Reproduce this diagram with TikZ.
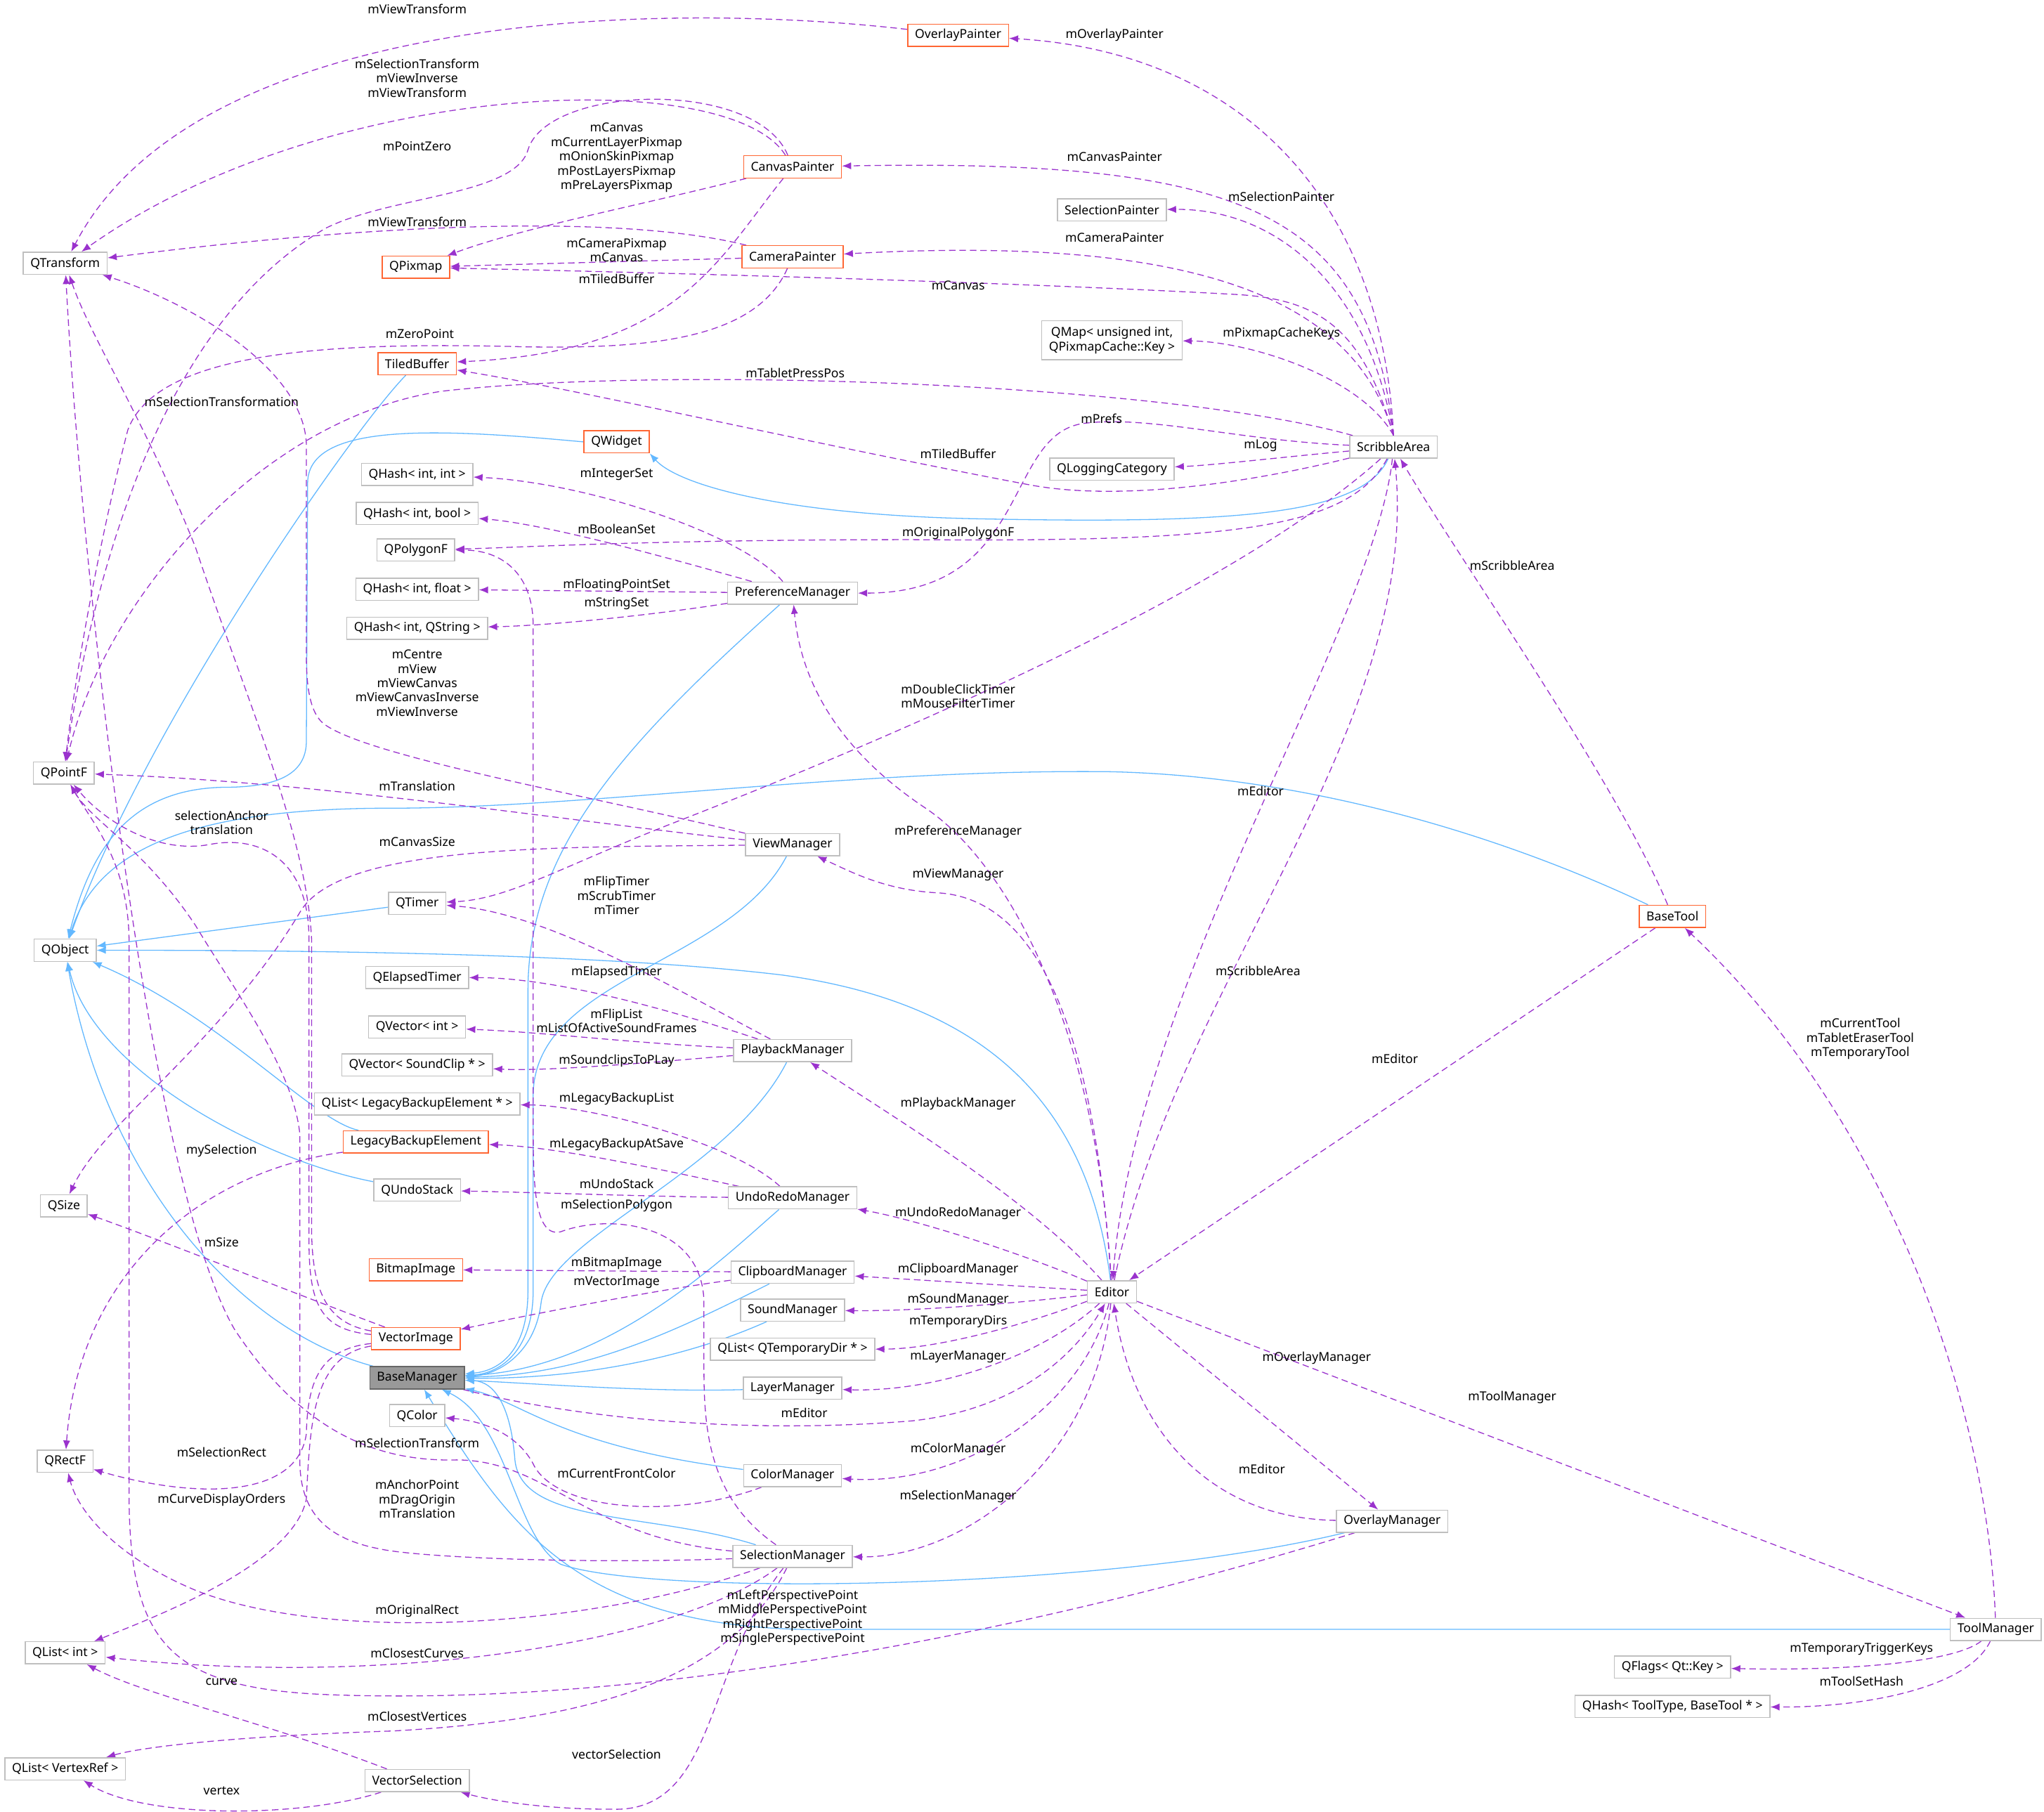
\documentclass[tikz,border=0pt]{standalone}
\usepackage{fontspec}
\setmainfont{Noto Sans}
\usetikzlibrary{arrows.meta,backgrounds}
\definecolor{inhblue}{HTML}{63B8FF}
\definecolor{usepurple}{HTML}{9A32CD}
\definecolor{boxgray}{HTML}{BFBFBF}
\definecolor{extorange}{HTML}{FF6633}
\definecolor{basegray}{HTML}{999999}
\newcommand{\dgfont}{\fontsize{9.5}{11}\selectfont}

\begin{document}
\begin{tikzpicture}[x=1pt,y=-1pt,>=Latex,
  cls/.style={draw=boxgray,fill=white,line width=0.8pt,font=\dgfont,inner xsep=5.5pt,inner ysep=1pt,minimum height=17pt},
  extcls/.style={cls,draw=extorange},
  maincls/.style={cls,draw=black!60,fill=basegray},
  inh/.style={inhblue,line width=0.7pt,-{Latex[length=7pt,width=5.5pt]}},
  use/.style={usepurple,line width=0.7pt,dash pattern=on 5pt off 3pt,-{Latex[length=7pt,width=5.5pt]}},
  lbl/.style={font=\dgfont,text=black,align=center,inner sep=0pt}]
  \useasboundingbox (0,0) rectangle (1568,1390);

  \node[cls] (qtransform) at (50,202) {QTransform};
  \node[cls] (qpointf) at (49,593) {QPointF};
  \node[cls] (qobject) at (50,729) {QObject};
  \node[cls] (qsize) at (49,925) {QSize};
  \node[cls] (qrectf) at (50,1121) {QRectF};
  \node[cls] (qlistint) at (50,1268) {QList< int >};
  \node[cls] (qlistvertex) at (50,1357) {QList< VertexRef >};

  \node[extcls] (qpixmap) at (319,205) {QPixmap};
  \node[extcls] (tiledbuffer) at (320,279) {TiledBuffer};
  \node[extcls] (qwidget) at (473,339) {QWidget};
  \node[cls] (qhashint) at (320,364) {QHash< int, int >};
  \node[cls] (qhashbool) at (320,394) {QHash< int, bool >};
  \node[cls] (qpolygonf) at (319,422) {QPolygonF};
  \node[cls] (qhashfloat) at (320,452) {QHash< int, float >};
  \node[cls] (qhashstring) at (320,482) {QHash< int, QString >};
  \node[cls] (qtimer) at (320,693) {QTimer};
  \node[cls] (qelapsed) at (320,750) {QElapsedTimer};
  \node[cls] (qvectorint) at (320,788) {QVector< int >};
  \node[cls] (qvectorsound) at (320,817) {QVector< SoundClip * >};
  \node[cls] (qlistlegacy) at (320,847) {QList< LegacyBackupElement * >};
  \node[extcls] (legacy) at (319,876) {LegacyBackupElement};
  \node[cls] (qundostack) at (320,913) {QUndoStack};
  \node[extcls] (bitmapimage) at (319,974) {BitmapImage};
  \node[extcls] (vectorimage) at (319,1027) {VectorImage};
  \node[maincls] (basemanager) at (320,1057) {BaseManager};
  \node[cls] (qcolor) at (320,1086) {QColor};
  \node[cls] (vectorselection) at (320,1366) {VectorSelection};

  \node[extcls] (overlaypainter) at (735,27) {OverlayPainter};
  \node[extcls] (canvaspainter) at (608,128) {CanvasPainter};
  \node[extcls] (camerapainter) at (608,197) {CameraPainter};
  \node[cls] (prefmanager) at (608,455) {PreferenceManager};
  \node[cls] (viewmanager) at (608,648) {ViewManager};
  \node[cls] (playbackmanager) at (608,806) {PlaybackManager};
  \node[cls] (undoredomanager) at (608,919) {UndoRedoManager};
  \node[cls] (clipboardmanager) at (608,976) {ClipboardManager};
  \node[cls] (soundmanager) at (608,1005) {SoundManager};
  \node[cls] (qlisttempdir) at (608,1035) {QList< QTemporaryDir * >};
  \node[cls] (layermanager) at (608,1065) {LayerManager};
  \node[cls] (colormanager) at (608,1132) {ColorManager};
  \node[cls] (selectionmanager) at (608,1194) {SelectionManager};

  \node[cls] (selectionpainter) at (853,161) {SelectionPainter};
  \node[cls,align=center,minimum height=30pt] (qmap) at (853,261) {QMap< unsigned int,\\ QPixmapCache::Key >};
  \node[cls] (qlogging) at (853,360) {QLoggingCategory};
  \node[cls] (scribblearea) at (1069,343) {ScribbleArea};
  \node[cls] (editor) at (853,991) {Editor};
  \node[cls] (overlaymanager) at (1068,1167) {OverlayManager};
  \node[extcls] (basetool) at (1283,703) {BaseTool};
  \node[cls] (toolmanager) at (1531,1250) {ToolManager};
  \node[cls] (qflags) at (1283,1279) {QFlags< Qt::Key >};
  \node[cls] (qhashtool) at (1283,1309) {QHash< ToolType, BaseTool * >};

  \begin{scope}[on background layer]
  \draw[inh] (tiledbuffer) .. controls (270,330) and (110,560) .. (qobject);
  \draw[inh] (qwidget.west) .. controls (330,328) and (237,325) .. (236,370) -- (235,570) .. controls (234,600) and (200,604) .. (170,604) .. controls (100,606) and (70,650) .. (qobject);
  \draw[inh] (scribblearea) .. controls (1045,395) and (950,402) .. (750,398) .. controls (600,395) and (520,372) .. (qwidget.south east);
  \draw[inh] (basetool) .. controls (1150,640) and (1000,595) .. (850,592) .. controls (650,590) and (450,620) .. (300,620) .. controls (150,620) and (75,650) .. (qobject);
  \draw[inh] (editor) .. controls (835,850) and (760,770) .. (600,748) .. controls (450,730) and (200,729) .. (qobject);
  \draw[inh] (qtimer) -- (qobject);
  \draw[inh] (basemanager) .. controls (180,1020) and (80,900) .. (qobject);
  \draw[inh] (qundostack) .. controls (200,890) and (70,820) .. (qobject);
  \draw[inh] (legacy) .. controls (240,860) and (170,780) .. (qobject);
  \draw[inh] (prefmanager) .. controls (480,570) and (405,650) .. (405,760) -- (405,990) .. controls (405,1040) and (380,1052) .. (basemanager);
  \draw[inh] (viewmanager) .. controls (560,740) and (410,750) .. (409,840) -- (409,990) .. controls (409,1040) and (380,1054) .. (basemanager);
  \draw[inh] (playbackmanager) .. controls (560,900) and (420,950) .. (415,1000) .. controls (410,1040) and (380,1055) .. (basemanager);
  \draw[inh] (undoredomanager) .. controls (560,960) and (470,1050) .. (basemanager);
  \draw[inh] (clipboardmanager) .. controls (520,1020) and (450,1055) .. (basemanager);
  \draw[inh] (soundmanager) .. controls (530,1040) and (450,1058) .. (basemanager);
  \draw[inh] (layermanager) .. controls (500,1068) and (420,1062) .. (basemanager);
  \draw[inh] (colormanager) .. controls (430,1110) and (400,1075) .. (basemanager);
  \draw[inh] (selectionmanager) .. controls (500,1160) and (400,1170) .. (395,1120) .. controls (392,1080) and (380,1060) .. (basemanager);
  \draw[inh] (overlaymanager) .. controls (850,1220) and (500,1225) .. (430,1200) .. controls (395,1180) and (390,1090) .. (basemanager);
  \draw[inh] (toolmanager) -- (650,1250) .. controls (450,1255) and (395,1180) .. (basemanager);

  \draw[use] (scribblearea.north) .. controls (1060,150) and (950,40) .. (overlaypainter) node[lbl] (lOvPainter) at (855,27) {mOverlayPainter};
  \draw[use] (scribblearea.north) .. controls (1050,160) and (950,122) .. (canvaspainter) node[lbl] (lCvPainter) at (855,120) {mCanvasPainter};
  \draw[use] (scribblearea.north) .. controls (1050,220) and (980,160) .. (selectionpainter) node[lbl] (lSelPainter) at (983,151) {mSelectionPainter};
  \draw[use] (scribblearea.north) .. controls (1040,230) and (920,180) .. (camerapainter) node[lbl] (lCamPainter) at (855,182) {mCameraPainter};
  \draw[use] (scribblearea.north) .. controls (1045,250) and (1010,230) .. (950,226) .. controls (750,215) and (450,208) .. (qpixmap) node[lbl] (lSaCanvas) at (735,219) {mCanvas};
  \draw[use] (scribblearea.north) .. controls (1045,290) and (960,262) .. (qmap) node[lbl] (lCacheKeys) at (983,256) {mPixmapCacheKeys};
  \draw[use] (scribblearea) .. controls (900,295) and (520,280) .. (340,300) .. controls (200,320) and (80,460) .. (qpointf) node[lbl] (lPressPos) at (610,286) {mTabletPressPos};
  \draw[use] (scribblearea) .. controls (950,338) and (880,318) .. (830,325) .. controls (770,335) and (790,455) .. (prefmanager) node[lbl] (lPrefs) at (845,321) {mPrefs};
  \draw[use] (scribblearea) .. controls (960,370) and (860,385) .. (790,372) .. controls (620,340) and (450,300) .. (tiledbuffer) node[lbl] (lSaTiled) at (735,348) {mTiledBuffer};
  \draw[use] (scribblearea) .. controls (990,350) and (930,357) .. (qlogging) node[lbl] (lLog) at (967,342) {mLog};
  \draw[use] (scribblearea) .. controls (1035,405) and (950,416) .. (700,414) .. controls (500,414) and (400,420) .. (qpolygonf) node[lbl] (lPolygonF) at (735,409) {mOriginalPolygonF};
  \draw[use] (scribblearea) .. controls (950,450) and (700,560) .. (520,630) .. controls (430,665) and (390,690) .. (qtimer) node[lbl] (lSaTimers) at (735,534) {mDoubleClickTimer\\mMouseFilterTimer};
  \draw[use] (scribblearea) .. controls (1055,480) and (870,760) .. (editor) node[lbl] (lSaEditor) at (967,607) {mEditor};
  \draw[use] (editor) .. controls (900,760) and (1090,560) .. (scribblearea) node[lbl] (lEdScribble) at (965,745) {mScribbleArea};

  \draw[use] (basetool) .. controls (1240,600) and (1120,430) .. (scribblearea) node[lbl] (lBtScribble) at (1160,434) {mScribbleArea};
  \draw[use] (basetool) -- (editor) node[lbl] (lBtEditor) at (1070,812) {mEditor};
  \draw[use] (toolmanager) .. controls (1525,1080) and (1450,860) .. (basetool) node[lbl] (lTools) at (1427,797) {mCurrentTool\\mTabletEraserTool\\mTemporaryTool};
  \draw[use] (editor) -- (toolmanager) node[lbl] (lToolMgr) at (1160,1072) {mToolManager};
  \draw[use] (toolmanager) .. controls (1500,1275) and (1420,1282) .. (qflags) node[lbl] (lTrigger) at (1428,1265) {mTemporaryTriggerKeys};
  \draw[use] (toolmanager) .. controls (1510,1295) and (1430,1310) .. (qhashtool) node[lbl] (lSetHash) at (1428,1290) {mToolSetHash};

  \draw[use] (editor) -- (overlaymanager) node[lbl] (lOvMgr) at (1010,1042) {mOverlayManager};
  \draw[use] (overlaymanager) .. controls (930,1165) and (870,1100) .. (editor) node[lbl] (lOmEditor) at (968,1127) {mEditor};
  \draw[use] (editor) .. controls (840,780) and (770,660) .. (710,620) .. controls (650,580) and (615,530) .. (prefmanager) node[lbl] (lPrefMgr) at (735,638) {mPreferenceManager};
  \draw[use] (editor) .. controls (840,800) and (800,690) .. (720,685) .. controls (680,683) and (655,670) .. (viewmanager) node[lbl] (lViewMgr) at (735,671) {mViewManager};
  \draw[use] (editor) .. controls (790,920) and (690,860) .. (playbackmanager) node[lbl] (lPlayMgr) at (735,847) {mPlaybackManager};
  \draw[use] (editor) .. controls (780,960) and (700,935) .. (undoredomanager) node[lbl] (lUndoMgr) at (735,931) {mUndoRedoManager};
  \draw[use] (editor) -- (clipboardmanager) node[lbl] (lClipMgr) at (735,974) {mClipboardManager};
  \draw[use] (editor) .. controls (780,1000) and (700,1006) .. (soundmanager) node[lbl] (lSoundMgr) at (735,997) {mSoundManager};
  \draw[use] (editor) .. controls (790,1015) and (720,1035) .. (qlisttempdir) node[lbl] (lTempDirs) at (735,1014) {mTemporaryDirs};
  \draw[use] (editor) .. controls (800,1040) and (720,1068) .. (layermanager) node[lbl] (lLayerMgr) at (735,1041) {mLayerManager};
  \draw[use] (basemanager) .. controls (450,1090) and (580,1100) .. (700,1090) .. controls (790,1080) and (830,1030) .. (editor) node[lbl] (lBmEditor) at (617,1084) {mEditor};
  \draw[use] (editor) .. controls (830,1080) and (740,1140) .. (colormanager) node[lbl] (lColorMgr) at (735,1112) {mColorManager};
  \draw[use] (editor) .. controls (840,1120) and (740,1195) .. (selectionmanager) node[lbl] (lSelMgr) at (735,1148) {mSelectionManager};

  \draw[use] (overlaypainter) .. controls (500,0) and (150,10) .. (qtransform) node[lbl] (lOpView) at (320,7) {mViewTransform};
  \draw[use] (canvaspainter) .. controls (560,50) and (250,60) .. (qtransform) node[lbl] (lCpView) at (320,60) {mSelectionTransform\\mViewInverse\\mViewTransform};
  \draw[use] (canvaspainter) .. controls (480,160) and (400,175) .. (qpixmap) node[lbl] (lCpPixmaps) at (473,121) {mCanvas\\mCurrentLayerPixmap\\mOnionSkinPixmap\\mPostLayersPixmap\\mPreLayersPixmap};
  \draw[use] (canvaspainter) .. controls (580,60) and (420,65) .. (405,115) .. controls (395,150) and (300,150) .. (250,175) .. controls (120,250) and (70,450) .. (qpointf) node[lbl] (lPointZero) at (320,112) {mPointZero};
  \draw[use] (canvaspainter) .. controls (550,200) and (520,270) .. (tiledbuffer) node[lbl] (lCpTiled) at (473,214) {mTiledBuffer};
  \draw[use] (camerapainter) .. controls (480,165) and (300,170) .. (qtransform) node[lbl] (lCamView) at (320,170) {mViewTransform};
  \draw[use] (camerapainter) -- (qpixmap) node[lbl] (lCamPixmap) at (473,192) {mCameraPixmap\\mCanvas};
  \draw[use] (camerapainter) .. controls (580,260) and (500,268) .. (400,266) .. controls (250,262) and (120,270) .. (98,330) .. controls (80,400) and (60,500) .. (qpointf) node[lbl] (lZeroPoint) at (322,256) {mZeroPoint};

  \draw[use] (viewmanager) .. controls (450,610) and (280,580) .. (248,555) .. controls (236,545) and (235,520) .. (235,500) -- (235,340) .. controls (232,280) and (140,230) .. (qtransform) node[lbl] (lViewTrans) at (320,524) {mCentre\\mView\\mViewCanvas\\mViewCanvasInverse\\mViewInverse};
  \draw[use] (viewmanager) .. controls (450,632) and (250,600) .. (qpointf) node[lbl] (lVmTranslation) at (320,603) {mTranslation};
  \draw[use] (viewmanager) .. controls (420,650) and (260,648) .. (230,700) .. controls (170,800) and (80,860) .. (qsize) node[lbl] (lCanvasSize) at (320,646) {mCanvasSize};

  \draw[use] (playbackmanager) .. controls (520,760) and (420,700) .. (qtimer) node[lbl] (lPbTimers) at (473,687) {mFlipTimer\\mScrubTimer\\mTimer};
  \draw[use] (playbackmanager) .. controls (500,770) and (420,750) .. (qelapsed) node[lbl] (lElapsed) at (473,746) {mElapsedTimer};
  \draw[use] (playbackmanager) .. controls (480,800) and (420,792) .. (qvectorint) node[lbl] (lFlipList) at (473,783) {mFlipList\\mListOfActiveSoundFrames};
  \draw[use] (playbackmanager) .. controls (500,815) and (420,822) .. (qvectorsound) node[lbl] (lSoundclips) at (473,814) {mSoundclipsToPLay};

  \draw[use] (prefmanager) .. controls (570,410) and (450,370) .. (qhashint) node[lbl] (lIntSet) at (473,364) {mIntegerSet};
  \draw[use] (prefmanager) .. controls (520,430) and (420,402) .. (qhashbool) node[lbl] (lBoolSet) at (473,406) {mBooleanSet};
  \draw[use] (prefmanager) -- (qhashfloat) node[lbl] (lFloatSet) at (473,449) {mFloatingPointSet};
  \draw[use] (prefmanager) .. controls (500,472) and (420,480) .. (qhashstring) node[lbl] (lStringSet) at (473,463) {mStringSet};

  \draw[use] (undoredomanager) .. controls (560,875) and (450,848) .. (qlistlegacy) node[lbl] (lBackupList) at (473,843) {mLegacyBackupList};
  \draw[use] (undoredomanager) .. controls (520,900) and (430,880) .. (legacy) node[lbl] (lBackupSave) at (473,878) {mLegacyBackupAtSave};
  \draw[use] (undoredomanager) .. controls (500,918) and (420,915) .. (qundostack) node[lbl] (lUndoStack) at (473,908) {mUndoStack};

  \draw[use] (selectionmanager) .. controls (545,1150) and (540,1100) .. (540,1050) -- (540,1000) .. controls (540,940) and (470,930) .. (430,945) .. controls (408,950) and (409,900) .. (409,850) -- (409,480) .. controls (409,440) and (385,422) .. (qpolygonf) node[lbl] (lSelPolygon) at (473,925) {mSelectionPolygon};
  \draw[use] (selectionmanager) .. controls (450,1180) and (420,1120) .. (350,1120) .. controls (270,1122) and (220,1080) .. (180,1020) .. controls (110,900) and (60,400) .. (qtransform) node[lbl] (lSmTransform) at (320,1107) {mSelectionTransform};
  \draw[use] (selectionmanager) .. controls (450,1200) and (320,1195) .. (290,1188) .. controls (250,1180) and (230,1160) .. (230,1120) -- (230,870) .. controls (225,820) and (180,760) .. (150,710) .. controls (110,650) and (70,630) .. (qpointf) node[lbl] (lAnchor) at (320,1150) {mAnchorPoint\\mDragOrigin\\mTranslation};
  \draw[use] (selectionmanager) .. controls (450,1250) and (250,1260) .. (150,1220) .. controls (90,1195) and (60,1160) .. (qrectf) node[lbl] (lOrigRect) at (320,1236) {mOriginalRect};
  \draw[use] (selectionmanager) .. controls (520,1260) and (300,1295) .. (qlistint) node[lbl] (lCurves) at (320,1268) {mClosestCurves};
  \draw[use] (selectionmanager) .. controls (560,1290) and (450,1320) .. (300,1328) .. controls (180,1332) and (110,1340) .. (qlistvertex) node[lbl] (lVertices) at (320,1317) {mClosestVertices};
  \draw[use] (selectionmanager) .. controls (540,1280) and (550,1390) .. (470,1388) .. controls (420,1388) and (380,1382) .. (vectorselection) node[lbl] (lVecSel) at (473,1346) {vectorSelection};

  \draw[use] (overlaymanager) .. controls (800,1250) and (500,1310) .. (250,1300) .. controls (130,1295) and (100,1260) .. (99,1150) -- (99,720) .. controls (98,660) and (70,630) .. (qpointf) node[lbl] (lPerspective) at (608,1241) {mLeftPerspectivePoint\\mMiddlePerspectivePoint\\mRightPerspectivePoint\\mSinglePerspectivePoint};

  \draw[use] (clipboardmanager) -- (bitmapimage) node[lbl] (lBitmap) at (473,969) {mBitmapImage};
  \draw[use] (clipboardmanager) .. controls (500,990) and (400,1010) .. (vectorimage) node[lbl] (lVector) at (473,984) {mVectorImage};
  \draw[use] (colormanager) .. controls (520,1165) and (430,1160) .. (410,1125) .. controls (398,1100) and (370,1090) .. (qcolor) node[lbl] (lFrontColor) at (473,1130) {mCurrentFrontColor};

  \draw[use] (vectorimage) .. controls (250,1015) and (239,990) .. (239,940) -- (239,720) .. controls (235,640) and (190,540) .. (150,420) .. controls (110,320) and (70,260) .. (qtransform) node[lbl] (lViTransform) at (170,308) {mSelectionTransformation};
  \draw[use] (vectorimage) .. controls (245,1020) and (237,1000) .. (237,950) -- (237,720) .. controls (237,660) and (200,640) .. (160,648) .. controls (120,655) and (80,630) .. (qpointf) node[lbl] (lViAnchor) at (170,631) {selectionAnchor\\translation};
  \draw[use] (vectorimage) .. controls (220,990) and (120,950) .. (qsize) node[lbl] (lViSize) at (170,953) {mSize};
  \draw[use] (vectorimage) .. controls (245,1035) and (236,1060) .. (235,1100) .. controls (228,1150) and (150,1150) .. (qrectf) node[lbl] (lViRect) at (170,1114) {mSelectionRect};
  \draw[use] (vectorimage) .. controls (240,1040) and (238,1090) .. (235,1150) .. controls (225,1200) and (120,1240) .. (qlistint) node[lbl] (lViOrders) at (170,1151) {mCurveDisplayOrders};
  \draw[use] (legacy) .. controls (150,900) and (60,980) .. (qrectf) node[lbl] (lMySel) at (170,883) {mySelection};
  \draw[use] (vectorselection) .. controls (200,1320) and (110,1300) .. (qlistint) node[lbl] (lCurve) at (170,1290) {curve};
  \draw[use] (vectorselection) .. controls (230,1395) and (110,1395) .. (qlistvertex) node[lbl] (lVertex) at (170,1374) {vertex};
  \end{scope}
\end{tikzpicture}
\end{document}
